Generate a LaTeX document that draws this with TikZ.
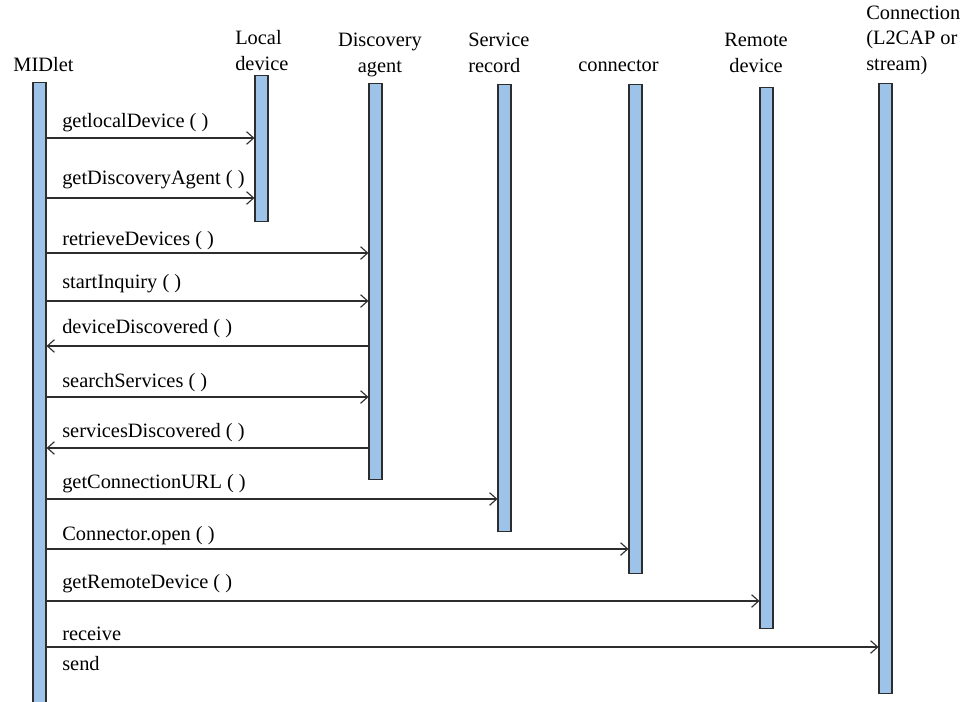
\documentclass[tikz,border=0pt]{standalone}
\usepackage{fontspec}
\setmainfont{Liberation Serif}
\usetikzlibrary{arrows.meta}
\definecolor{barblue}{RGB}{157,195,233}
\definecolor{edgegray}{RGB}{45,45,45}
\newdimen\px \px=0.025cm
\tikzset{
  lifebar/.style={draw=edgegray, line width=0.8pt, fill=barblue, anchor=north,
    minimum width=13\px, inner sep=0pt},
  msg/.style={draw=edgegray, line width=0.8pt},
  msglabel/.style={anchor=base west, inner sep=0pt},
  head/.style={inner sep=0pt},
  >={Straight Barb[length=5pt,width=9pt]}
}
\begin{document}
\begin{tikzpicture}[x=0.025cm, y=-0.025cm,
    font=\fontsize{14.5}{18}\selectfont]
  \clip (0,0) rectangle (960,702);

  % object names
  \node (midletname) at (43.5, 79) [head, anchor=south] {MIDlet\strut};
  \node (localname) at (235, 78) [head, anchor=south west, align=left] {Local\\device\strut};
  \node (agentname) at (380, 80) [head, anchor=south, align=center] {Discovery\\agent\strut};
  \node (recordname) at (468, 80) [head, anchor=south west, align=left] {Service\\record\strut};
  \node (connname) at (578, 79) [head, anchor=south west] {connector\strut};
  \node (remotename) at (756, 80) [head, anchor=south, align=center] {Remote\\device\strut};
  \node (linkname) at (866, 78) [head, anchor=south west, align=left] {Connection\\(L2CAP or\\stream)\strut};

  % life lines
  \node (midlet) at (39.5, 82) [lifebar, minimum height=640\px] {};
  \node (local) at (261.5, 75) [lifebar, minimum height=146\px] {};
  \node (agent) at (375.5, 83) [lifebar, minimum height=396\px] {};
  \node (record) at (504.5, 84) [lifebar, minimum height=447\px] {};
  \node (conn) at (635.5, 84) [lifebar, minimum height=489\px] {};
  \node (remote) at (766.5, 87) [lifebar, minimum height=541\px] {};
  \node (link) at (885.5, 83) [lifebar, minimum height=610\px] {};

  % messages
  \node (m1) at (62, 128) [msglabel] {getlocalDevice ( )};
  \draw[msg,->] (midlet.east |- 0,138) -- (local.west |- 0,138);
  \node (m2) at (62, 185) [msglabel] {getDiscoveryAgent ( )};
  \draw[msg,->] (midlet.east |- 0,198) -- (local.west |- 0,198);
  \node (m3) at (62, 245) [msglabel] {retrieveDevices ( )};
  \draw[msg,->] (midlet.east |- 0,253) -- (agent.west |- 0,253);
  \node (m4) at (62, 288) [msglabel] {startInquiry ( )};
  \draw[msg,->] (midlet.east |- 0,301) -- (agent.west |- 0,301);
  \node (m5) at (62, 333) [msglabel] {deviceDiscovered ( )};
  \draw[msg,->] (agent.west |- 0,346) -- (midlet.east |- 0,346);
  \node (m6) at (62, 387) [msglabel] {searchServices ( )};
  \draw[msg,->] (midlet.east |- 0,397) -- (agent.west |- 0,397);
  \node (m7) at (62, 437) [msglabel] {servicesDiscovered ( )};
  \draw[msg,->] (agent.west |- 0,448) -- (midlet.east |- 0,448);
  \node (m8) at (62, 488) [msglabel] {getConnectionURL ( )};
  \draw[msg,->] (midlet.east |- 0,499) -- (record.west |- 0,499);
  \node (m9) at (62, 540) [msglabel] {Connector.open ( )};
  \draw[msg,->] (midlet.east |- 0,549) -- (conn.west |- 0,549);
  \node (m10) at (62, 588) [msglabel] {getRemoteDevice ( )};
  \draw[msg,->] (midlet.east |- 0,601) -- (remote.west |- 0,601);
  \node (m11) at (62, 640) [msglabel] {receive};
  \draw[msg,->] (midlet.east |- 0,647) -- (link.west |- 0,647);
  \node (m12) at (62, 670) [msglabel] {send};
\end{tikzpicture}
\end{document}
